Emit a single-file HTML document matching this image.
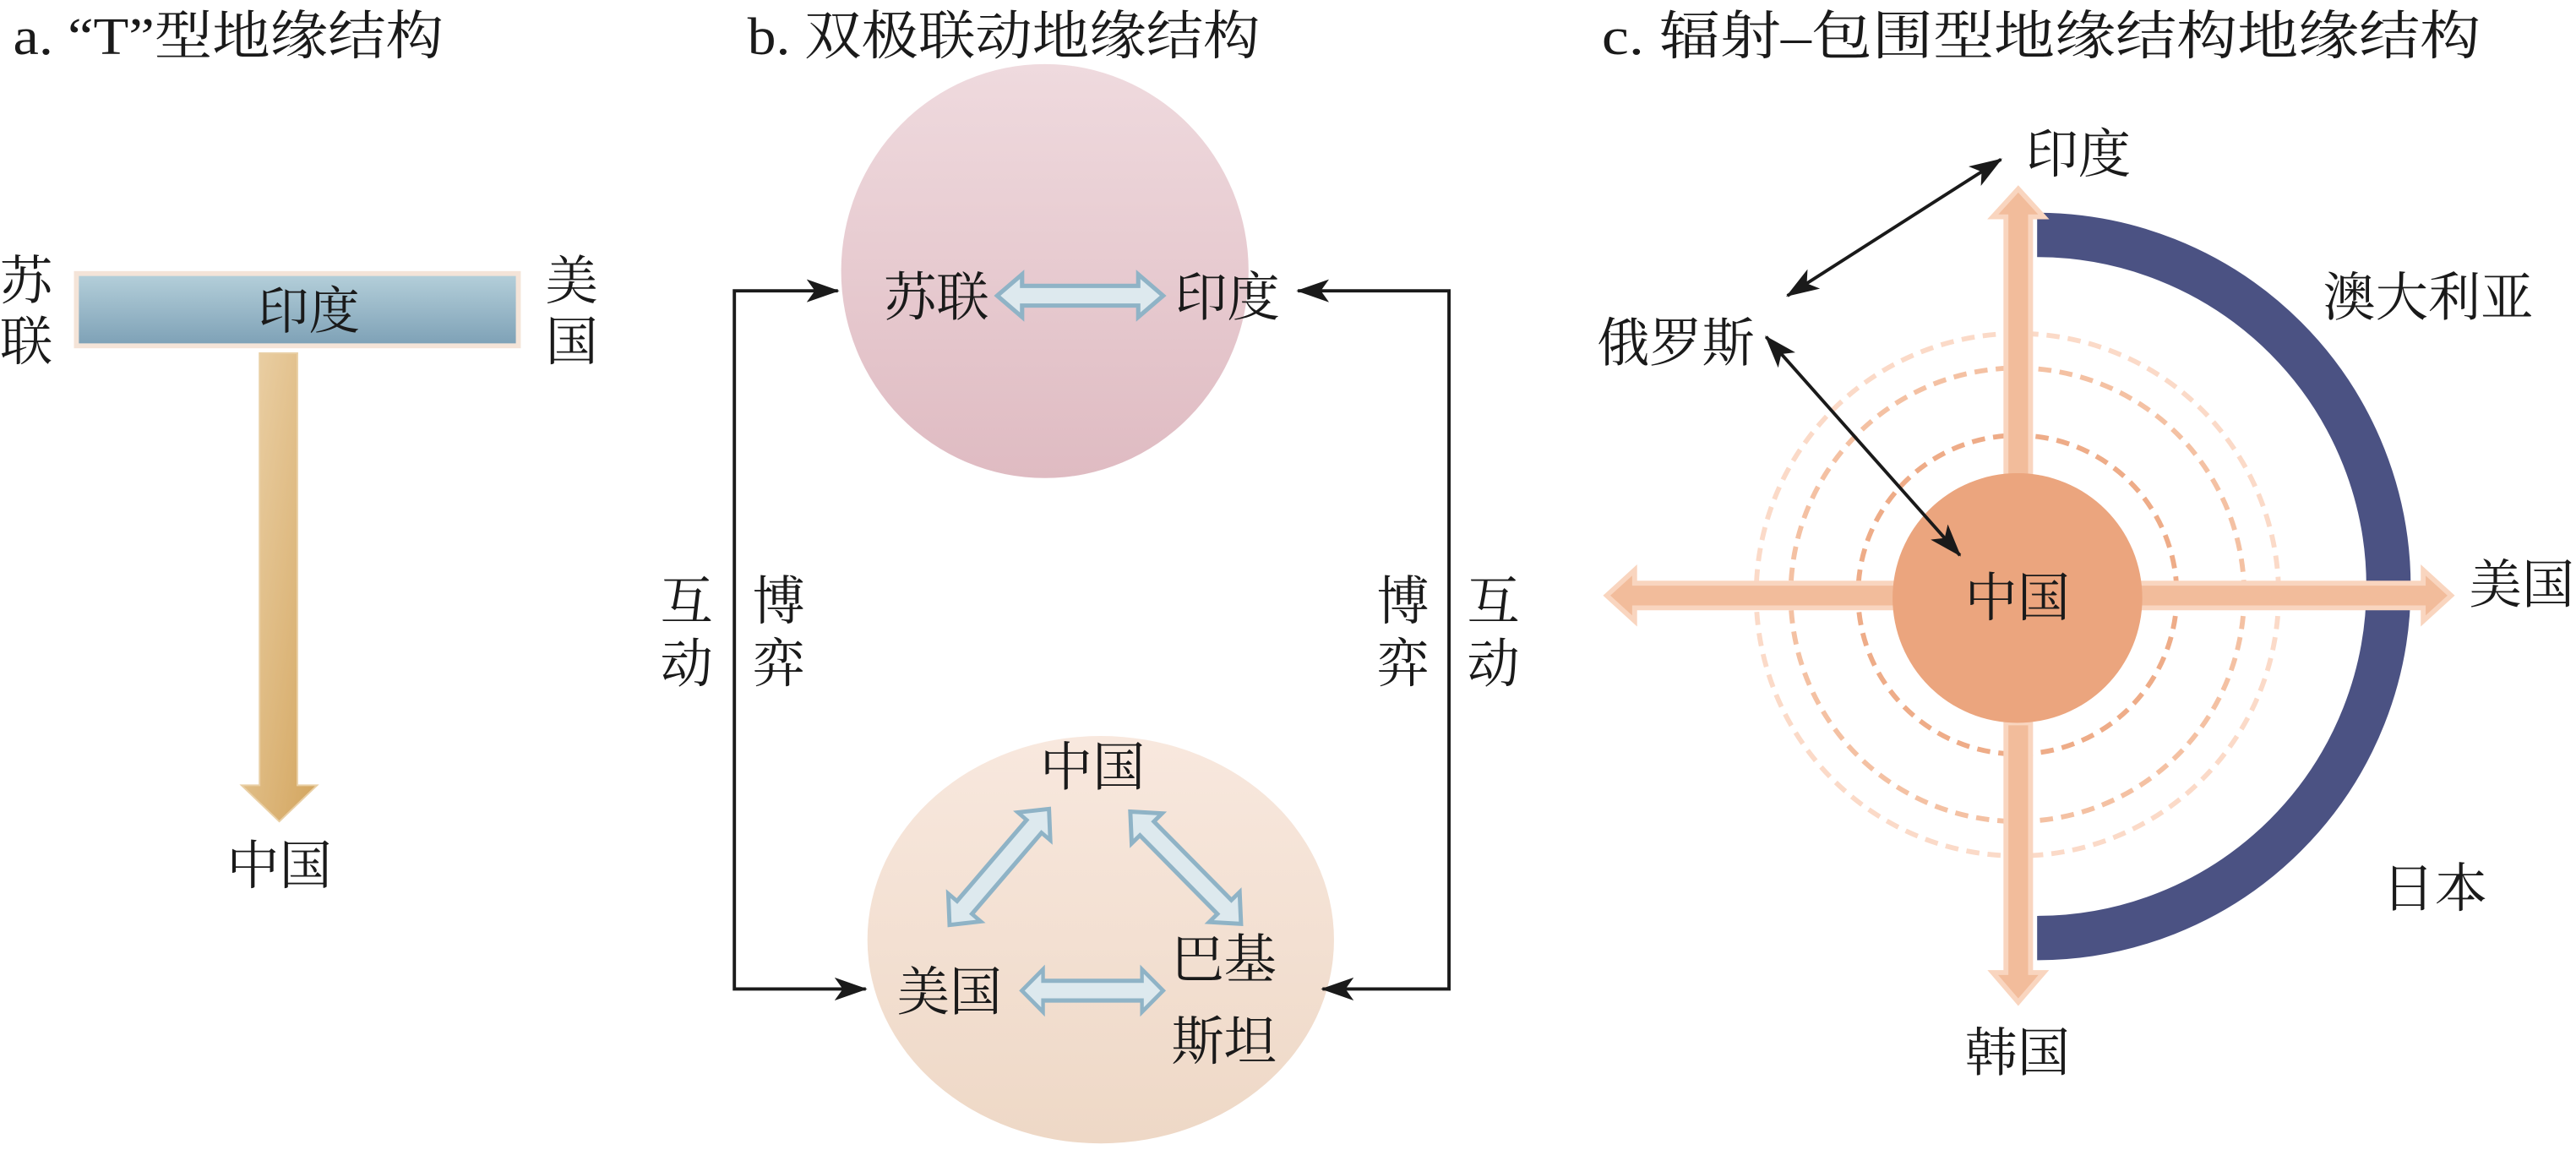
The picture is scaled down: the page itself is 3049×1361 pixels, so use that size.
<!DOCTYPE html>
<html><head><meta charset="utf-8"><style>
html,body{margin:0;padding:0;background:#fff;}
svg{display:block;}
text{font-family:"Liberation Serif","Noto Serif CJK SC","Noto Sans CJK SC",serif;fill:#1a1a1a;}
</style></head><body>
<svg width="3049" height="1361" viewBox="0 0 1568 700" preserveAspectRatio="none" xmlns="http://www.w3.org/2000/svg">
<defs>
<linearGradient id="gbar" x1="0" y1="0" x2="0" y2="1"><stop offset="0" stop-color="#b3ced9"/><stop offset="1" stop-color="#7fa2b7"/></linearGradient>
<linearGradient id="garr" x1="0" y1="0" x2="1" y2="1"><stop offset="0" stop-color="#ecd3ab"/><stop offset="1" stop-color="#d3a55e"/></linearGradient>
<linearGradient id="gtop" x1="0" y1="0" x2="0" y2="1"><stop offset="0" stop-color="#efdade"/><stop offset="1" stop-color="#dfbbc2"/></linearGradient>
<linearGradient id="gbot" x1="0" y1="0" x2="0" y2="1"><stop offset="0" stop-color="#f8e8de"/><stop offset="1" stop-color="#eed8c6"/></linearGradient>
<marker id="ah" viewBox="0 0 20 14" refX="19" refY="7" markerWidth="20" markerHeight="14" markerUnits="userSpaceOnUse" orient="auto-start-reverse"><path d="M0,0 L20,7 L0,14 L5,7 Z" fill="#1a1a1a"/></marker>
<polygon id="dbl" points="0,0 15,-13 15,-6 85,-6 85,-13 100,0 85,13 85,6 15,6 15,13" fill="#dde9ee" stroke="#8fb3c6" stroke-width="2.6" stroke-linejoin="miter"/>
</defs>

<!-- Panel a -->
<text x="8" y="33" font-size="32" textLength="262" lengthAdjust="spacingAndGlyphs">a. “T”型地缘结构</text>
<rect x="45" y="165" width="272" height="47" fill="#f4e4d8"/>
<rect x="48" y="168" width="266" height="41" fill="url(#gbar)"/>
<text x="188" y="200" font-size="31" text-anchor="middle">印度</text>
<text x="0" y="182" font-size="32">苏</text>
<text x="0" y="219" font-size="32">联</text>
<text x="332" y="182" font-size="32">美</text>
<text x="332" y="219" font-size="32">国</text>
<polygon points="158,215 181,215 181,478 193,478 170,500 147,478 158,478" fill="url(#garr)" stroke="#e9cfa5" stroke-width="1"/>
<text x="170" y="538" font-size="32" text-anchor="middle">中国</text>

<!-- Panel b -->
<text x="455" y="33" font-size="32" textLength="312" lengthAdjust="spacingAndGlyphs">b. 双极联动地缘结构</text>
<ellipse cx="636" cy="165" rx="124" ry="126" fill="url(#gtop)"/>
<ellipse cx="670" cy="572" rx="142" ry="124" fill="url(#gbot)"/>
<text x="570" y="192" font-size="32" text-anchor="middle">苏联</text>
<text x="747" y="192" font-size="32" text-anchor="middle">印度</text>
<use href="#dbl" transform="translate(607,180) scale(1.01,1)"/>
<text x="665" y="478" font-size="32" text-anchor="middle">中国</text>
<text x="578" y="615" font-size="32" text-anchor="middle">美国</text>
<text x="745" y="595" font-size="32" text-anchor="middle">巴基</text>
<text x="745" y="645" font-size="32" text-anchor="middle">斯坦</text>
<use href="#dbl" transform="translate(622,603) scale(0.86,1)"/>
<use href="#dbl" transform="translate(578,563) rotate(-49.4) scale(0.93,1)"/>
<use href="#dbl" transform="translate(688,494) rotate(45.4) scale(0.96,1)"/>
<polyline points="510,177 447,177 447,602 527,602" fill="none" stroke="#1a1a1a" stroke-width="2" marker-start="url(#ah)" marker-end="url(#ah)"/>
<polyline points="790,177 882,177 882,602 805,602" fill="none" stroke="#1a1a1a" stroke-width="2" marker-start="url(#ah)" marker-end="url(#ah)"/>
<text x="402" y="377" font-size="32">互</text>
<text x="402" y="415" font-size="32">动</text>
<text x="458" y="377" font-size="32">博</text>
<text x="458" y="415" font-size="32">弈</text>
<text x="838" y="377" font-size="32">博</text>
<text x="838" y="415" font-size="32">弈</text>
<text x="893" y="377" font-size="32">互</text>
<text x="893" y="415" font-size="32">动</text>

<!-- Panel c -->
<text x="975" y="33" font-size="32" textLength="535" lengthAdjust="spacingAndGlyphs">c. 辐射–包围型地缘结构地缘结构</text>
<g fill="none" stroke-dasharray="8,5">
<circle cx="1228" cy="362" r="159" stroke="#fbdac8" stroke-width="3"/>
<circle cx="1228" cy="362" r="138" stroke="#f4c1a3" stroke-width="3"/>
<circle cx="1228" cy="362" r="97" stroke="#eeac88" stroke-width="3"/>
</g>
<path d="M1240,143 A214,214 0 0 1 1240,571" fill="none" stroke="#4b5283" stroke-width="27"/>
<g fill="#f2bc9b" stroke="#f9d5bf" stroke-width="3">
<polygon points="1221,290 1221,132 1213,132 1228.5,115 1244,132 1236,132 1236,290"/>
<polygon points="1221,440 1221,592 1213,592 1228.5,610 1244,592 1236,592 1236,440"/>
<polygon points="1160,355 995,355 995,347 978,362.5 995,378 995,370 1160,370"/>
<polygon points="1300,355 1475,355 1475,347 1492,362.5 1475,378 1475,370 1300,370"/>
</g>
<circle cx="1228" cy="364" r="76" fill="#eba57e"/>
<text x="1228" y="375" font-size="32" text-anchor="middle">中国</text>
<line x1="1088" y1="180" x2="1218" y2="97" stroke="#1a1a1a" stroke-width="2" marker-start="url(#ah)" marker-end="url(#ah)"/>
<line x1="1075" y1="205" x2="1193" y2="338" stroke="#1a1a1a" stroke-width="2" marker-start="url(#ah)" marker-end="url(#ah)"/>
<text x="1265" y="105" font-size="32" text-anchor="middle">印度</text>
<text x="1478" y="192" font-size="32" text-anchor="middle">澳大利亚</text>
<text x="1020" y="220" font-size="32" text-anchor="middle">俄罗斯</text>
<text x="1535" y="367" font-size="32" text-anchor="middle">美国</text>
<text x="1482" y="552" font-size="32" text-anchor="middle">日本</text>
<text x="1228" y="652" font-size="32" text-anchor="middle">韩国</text>
</svg>
</body></html>
